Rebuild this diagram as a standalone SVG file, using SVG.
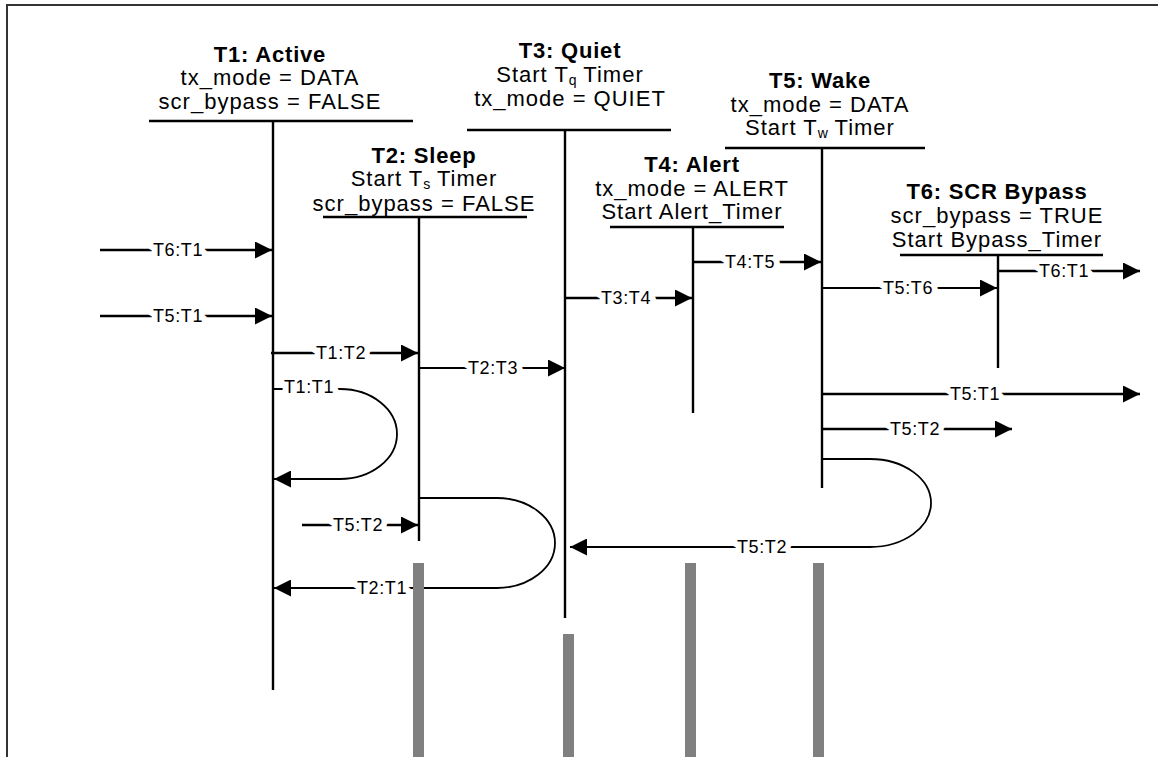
<svg xmlns="http://www.w3.org/2000/svg" width="1158" height="757" viewBox="0 0 1158 757">
<style>
.t{font-family:"Liberation Sans",Arial,sans-serif;font-size:22px;text-anchor:middle;fill:#000;letter-spacing:1px}
.b{font-weight:bold;letter-spacing:0.8px}
.sub{font-size:14px;letter-spacing:0}
.bar{stroke:#000;stroke-width:2.6;fill:none}
.life{stroke:#000;stroke-width:2.4;fill:none}
.c{stroke:#000;stroke-width:2.4;fill:none;marker-end:url(#ah)}
.thin{stroke-width:1.8}
.lbl{font-family:"Liberation Sans",Arial,sans-serif;font-size:18px;letter-spacing:0.6px;text-anchor:middle;fill:#000;stroke:#fff;stroke-width:12px;paint-order:stroke;stroke-linejoin:round}
.gray{fill:#808080}
</style>
<defs>
<marker id="ah" markerUnits="userSpaceOnUse" markerWidth="18" markerHeight="17" refX="17" refY="8.5" orient="auto">
<path d="M0,0 L17,8.5 L0,17 z" fill="#000"/>
</marker>
</defs>
<rect width="1158" height="757" fill="#fff"/>
<path d="M7,757 V5 H1158" stroke="#333" stroke-width="2" fill="none"/>

<g id="T1">
<text class="t b" x="270" y="62">T1: Active</text>
<text class="t" x="270" y="85">tx_mode = DATA</text>
<text class="t" x="270" y="109">scr_bypass = FALSE</text>
<line class="bar" x1="149" y1="121" x2="413" y2="121"/>
<line class="life" x1="273" y1="121" x2="273" y2="690"/>
</g>
<g id="T2">
<text class="t b" x="424" y="163">T2: Sleep</text>
<text class="t" x="424" y="186">Start T<tspan class="sub" dy="3">s</tspan><tspan dy="-3"> Timer</tspan></text>
<text class="t" x="424" y="211">scr_bypass = FALSE</text>
<line class="bar" x1="323" y1="217" x2="527" y2="217"/>
<line class="life" x1="419" y1="217" x2="419" y2="541"/>
</g>
<g id="T3">
<text class="t b" x="570" y="58">T3: Quiet</text>
<text class="t" x="570" y="82">Start T<tspan class="sub" dy="3">q</tspan><tspan dy="-3"> Timer</tspan></text>
<text class="t" x="570" y="106">tx_mode = QUIET</text>
<line class="bar" x1="467" y1="130" x2="671" y2="130"/>
<line class="life" x1="565" y1="130" x2="565" y2="618"/>
</g>
<g id="T4">
<text class="t b" x="692" y="172">T4: Alert</text>
<text class="t" x="692" y="196">tx_mode = ALERT</text>
<text class="t" x="692" y="219">Start Alert_Timer</text>
<line class="bar" x1="610" y1="227" x2="784" y2="227"/>
<line class="life" x1="693" y1="227" x2="693" y2="413"/>
</g>
<g id="T5">
<text class="t b" x="820" y="88">T5: Wake</text>
<text class="t" x="820" y="112">tx_mode = DATA</text>
<text class="t" x="820" y="135">Start T<tspan class="sub" dy="3">w</tspan><tspan dy="-3"> Timer</tspan></text>
<line class="bar" x1="725" y1="148" x2="925" y2="148"/>
<line class="life" x1="822" y1="148" x2="822" y2="488"/>
</g>
<g id="T6">
<text class="t b" x="997" y="199">T6: SCR Bypass</text>
<text class="t" x="997" y="223">scr_bypass = TRUE</text>
<text class="t" x="997" y="247">Start Bypass_Timer</text>
<line class="bar" x1="900" y1="255" x2="1103" y2="255"/>
<line class="life" x1="998" y1="255" x2="998" y2="368"/>
</g>

<g id="connectors">
<path class="c" d="M100,250 H272"/>
<path class="c" d="M100,316 H272"/>
<path class="c" d="M271,353 H418"/>
<path class="c thin" d="M419,368 H565"/>
<path class="c thin" d="M273,389 H340 A57,45 0 0 1 340,479 H274"/>
<path class="c" d="M302,525 H418"/>
<path class="c thin" d="M419,498 H497 A58,45 0 0 1 497,588 H274"/>
<path class="c" d="M565,298 H692"/>
<path class="c" d="M693,262 H821"/>
<path class="c thin" d="M822,288 H997"/>
<path class="c" d="M999,271 H1140"/>
<path class="c" d="M822,394 H1140"/>
<path class="c" d="M822,429 H1012"/>
<path class="c thin" d="M823,459 H870 A61,44 0 0 1 870,547 H570"/>
<text class="lbl" x="178" y="256">T6:T1</text>
<text class="lbl" x="178" y="322">T5:T1</text>
<text class="lbl" x="341" y="359">T1:T2</text>
<text class="lbl" x="493" y="374">T2:T3</text>
<text class="lbl" x="309" y="393">T1:T1</text>
<text class="lbl" x="358" y="531">T5:T2</text>
<text class="lbl" x="382" y="594">T2:T1</text>
<text class="lbl" x="626" y="304">T3:T4</text>
<text class="lbl" x="750" y="268">T4:T5</text>
<text class="lbl" x="908" y="294">T5:T6</text>
<text class="lbl" x="1064" y="277">T6:T1</text>
<text class="lbl" x="975" y="400">T5:T1</text>
<text class="lbl" x="915" y="435">T5:T2</text>
<text class="lbl" x="762" y="553">T5:T2</text>
</g>

<rect class="gray" x="413" y="563" width="11" height="194"/>
<rect class="gray" x="563" y="634" width="11" height="123"/>
<rect class="gray" x="685" y="563" width="11" height="194"/>
<rect class="gray" x="813" y="563" width="11" height="194"/>
</svg>
